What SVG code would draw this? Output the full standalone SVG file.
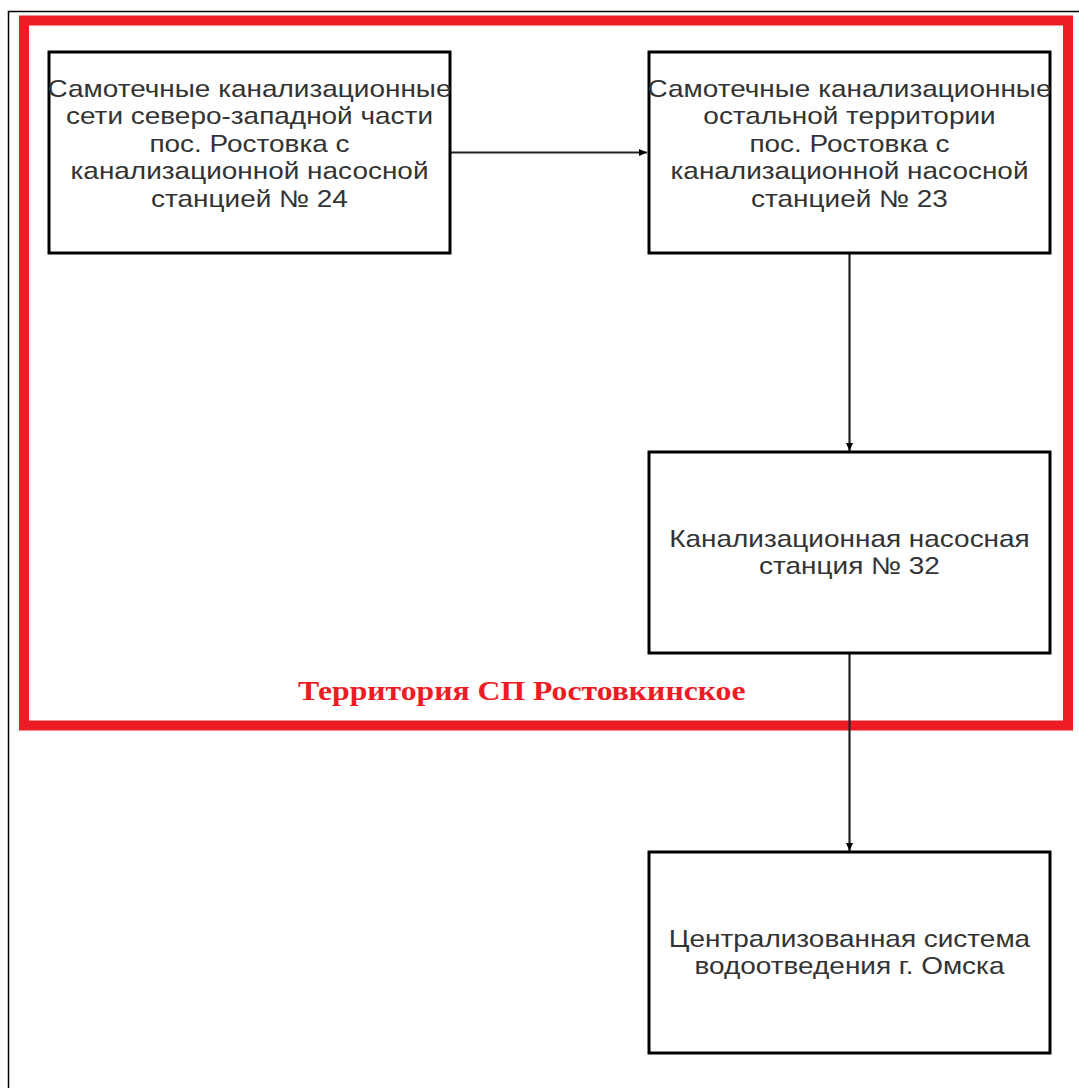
<svg xmlns="http://www.w3.org/2000/svg" width="1079" height="1088" viewBox="0 0 1079 1088">
<defs>
<style>
.box{fill:#fff;stroke:#000;stroke-width:3}
.t{font-family:"Liberation Sans",Arial,sans-serif;font-size:24px;fill:#333;text-anchor:middle}
.c{stroke:#222;stroke-width:2.2;fill:none}
.lbl{font-family:"Liberation Serif","Times New Roman",serif;font-weight:bold;font-size:27px;fill:#ED1C24}
</style>
<marker id="ah" markerWidth="8" markerHeight="8" refX="8" refY="4" orient="auto" markerUnits="userSpaceOnUse">
<path d="M0,0.5 L8,4 L0,7.5 z" fill="#000"/>
</marker>
</defs>
<rect x="0" y="0" width="1079" height="1088" fill="#fff"/>
<rect x="8.5" y="11.5" width="1080" height="1090" fill="none" stroke="#000" stroke-width="1.5"/>
<g id="territory">
<rect x="24" y="20.5" width="1044" height="705" fill="none" stroke="#ED1C24" stroke-width="10"/>
<g transform="translate(298,0) scale(1.175,1)"><text class="lbl" x="0" y="700">Территория СП Ростовкинское</text></g>
</g>
<g id="connectors">
<line class="c" x1="451" y1="152.5" x2="647" y2="152.5" marker-end="url(#ah)"/>
<line class="c" x1="849.5" y1="253" x2="849.5" y2="451" marker-end="url(#ah)"/>
<line class="c" x1="849.5" y1="653" x2="849.5" y2="851" marker-end="url(#ah)"/>
</g>
<g id="node1">
<rect class="box" x="49" y="52" width="401" height="201"/>
<g transform="translate(249.5,0) scale(1.165,1)"><text class="t"><tspan x="0" y="97">Самотечные канализационные</tspan><tspan x="0" y="124.5">сети северо-западной части</tspan><tspan x="0" y="152">пос. Ростовка с</tspan><tspan x="0" y="179.5">канализационной насосной</tspan><tspan x="0" y="207">станцией № 24</tspan></text></g>
</g>
<g id="node2">
<rect class="box" x="649" y="52" width="401" height="201"/>
<g transform="translate(849.5,0) scale(1.165,1)"><text class="t"><tspan x="0" y="97">Самотечные канализационные</tspan><tspan x="0" y="124.5">остальной территории</tspan><tspan x="0" y="152">пос. Ростовка с</tspan><tspan x="0" y="179.5">канализационной насосной</tspan><tspan x="0" y="207">станцией № 23</tspan></text></g>
</g>
<g id="node3">
<rect class="box" x="649" y="452" width="401" height="201"/>
<g transform="translate(849.5,0) scale(1.165,1)"><text class="t"><tspan x="0" y="547">Канализационная насосная</tspan><tspan x="0" y="574.5">станция № 32</tspan></text></g>
</g>
<g id="node4">
<rect class="box" x="649" y="852" width="401" height="201"/>
<g transform="translate(849.5,0) scale(1.165,1)"><text class="t"><tspan x="0" y="947">Централизованная система</tspan><tspan x="0" y="974.5">водоотведения г. Омска</tspan></text></g>
</g>
</svg>
